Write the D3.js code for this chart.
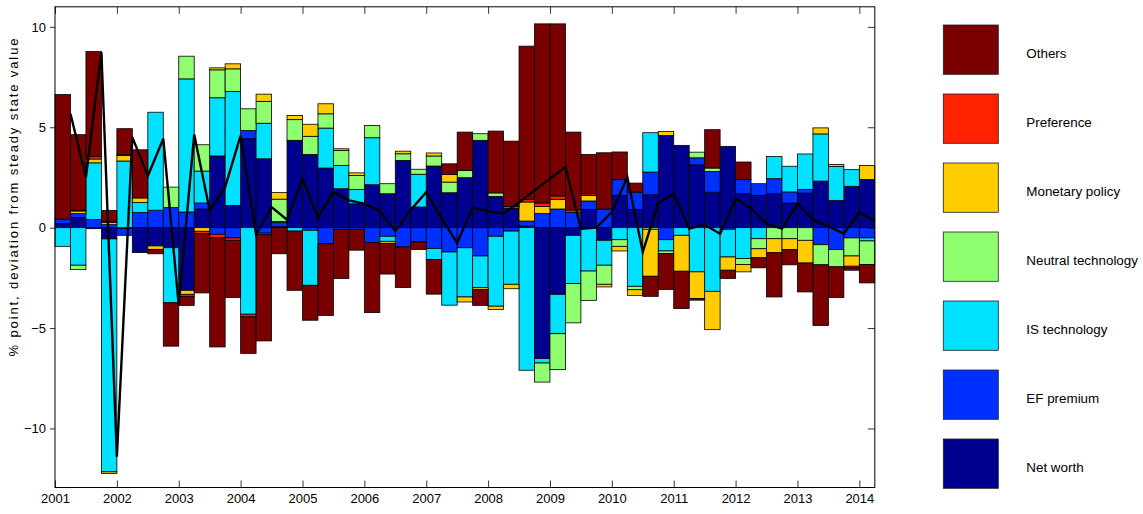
<!DOCTYPE html>
<html>
<head>
<meta charset="utf-8">
<script src="https://cdn.jsdelivr.net/npm/d3@7"></script>
<style>
  body { margin: 0; background: #fff; }
  text { font-family: "Liberation Sans", Arial, Helvetica, sans-serif; fill: #000; }
</style>
</head>
<body>
<svg id="chart" width="1143" height="514"></svg>
<script>
// Quarterly decomposition, 2001Q1 .. 2014Q1 (53 quarters)
const quarterStarts = [];
for (let yr = 2001; yr <= 2014; yr++) for (let q = 0; q < 4; q++) {
  if (yr === 2014 && q > 0) break;
  quarterStarts.push(yr + q / 4);
}

const netWorth = [0.2, 0.5, -0.05, -0.56, -0.05, -1.24, -0.91, -1.0, -3.12, 0.93,
  3.57, 1.11, 4.43, 3.43, 0.05, 4.35, 3.65, 2.97, 1.94, 1.19,
  2.14, 1.69, 3.35, 1.03, 3.07, 1.74, 2.49, 4.35, 1.56, 0.95,
  0.08, -6.52, -3.32, -0.38, 0.9, -0.63, 1.61, 0.91, 1.64, 4.59,
  4.1, 3.13, 1.77, 4.05, 1.69, 1.61, 1.69, 1.23, 1.72, 2.32,
  1.36, 2.06, 2.4];
const efPremium = [0.23, 0.2, 0.4, 0.15, -0.33, 0.75, 0.87, 1.0, 0.78, 0.3,
  -0.33, -0.51, 0.41, -0.27, 0.2, 0, -0.13, -0.8, -0.08, -0.08,
  -0.75, -0.43, -0.96, -0.71, -1.04, -1.21, -1.0, -1.41, -0.43, -0.17,
  0.25, 0.7, 0.93, 0.75, 0.43, 0.93, 0.78, 0.86, 1.13, -0.6,
  0, 0.35, 1.03, -0.08, 0.7, 0.58, 0.75, 0.55, 0.18, -0.85,
  -1.09, -0.51, -0.51];
const isTechnology = [-0.93, -1.87, 2.83, -11.6, 3.32, 0.5, 4.88, -2.74, 6.63, 1.59,
  2.9, 5.67, -4.31, 1.77, 0.05, -0.17, -2.74, 1.99, 1.16, 0.71,
  2.34, -0.25, 0, 1.63, -0.55, -2.65, -2.45, -1.58, -3.48, -2.65,
  -7.1, -0.22, -1.96, -2.4, -2.16, -1.24, -0.6, -2.92, 1.96, -0.56,
  -0.38, -2.2, -3.17, -1.38, -1.54, -0.55, 1.11, 1.28, 1.77, 2.35,
  1.69, 0.83, -0.15];
const neutralTechnology = [0, -0.22, 0, 0.1, 0, 0, 0, 1.02, 1.13, 1.31,
  1.39, 1.13, 1.08, 1.09, 1.12, 1.03, 0.9, 0.71, 0.75, 0.7,
  0.61, 0.5, 0.33, 0.25, 0.5, 0.53, 0.36, 0.33, 0.17, 0,
  0, -0.95, -1.79, -1.96, -1.46, -0.95, -0.33, -0.17, -0.08, -0.13,
  0, 0.28, 0.17, 0, -0.3, -0.5, -0.55, -0.55, -0.63, -1.0,
  -0.86, -0.9, -1.18];
const monetaryPolicy = [0, 0.13, 0.19, -0.08, 0.28, 0.23, -0.17, 0, -0.2, -0.18,
  0.1, 0.25, 0, 0.36, 0.33, 0.21, 0.6, 0.5, 0.08, 0.13,
  0, -0.1, 0.13, 0, 0.15, 0.38, -0.25, -0.1, -0.17, -0.22,
  0.95, 0.36, 0.48, 0, 0.28, -0.13, -0.23, -0.28, -2.34, 0.2,
  -1.79, -1.33, -1.91, -0.66, -0.36, -0.45, -0.7, -0.55, -1.13, 0.3,
  0.1, -0.51, 0.7];
const preference = [0, 0.05, 0.13, 0.07, 0.05, 0, 0, 0, -0.1, -0.12,
  -0.17, -0.12, -0.13, -0.08, 0, 0, 0, 0, 0, 0,
  0, 0, 0, 0, 0, 0, 0, 0, 0, 0.1,
  0.12, 0.17, 0.17, 0.13, 0.08, 0, 0, 0, 0, 0,
  0, 0, 0, 0, 0, 0, 0, 0, 0, 0,
  0, -0.08, 0];
const others = [6.2, 3.75, 5.22, 0.54, 1.28, 2.4, -0.22, -2.16, -0.45, -2.95,
  -5.44, -2.85, -1.82, -5.29, -1.3, -2.95, -1.74, -3.57, -2.45, -1.04,
  -3.48, -1.53, -2.02, -0.38, -1.72, 0.53, 1.91, -0.78, 3.08, 3.26,
  7.64, 8.92, 8.57, 3.88, 1.96, 2.8, 1.38, 0.45, -1.0, -1.79,
  -1.86, -0.08, 1.91, -0.41, 0.88, -0.5, -2.2, -0.75, -1.44, -3.02,
  -1.53, -0.12, -0.91];
// Total deviation (black line)
const totalDeviation = [5.67, 2.52, 8.74, -11.41, 4.51, 2.57, 4.43, -3.86, 4.64, 0.86,
  2.02, 4.59, -0.33, 1.03, 0.4, 2.44, 0.5, 1.77, 1.36, 1.2,
  0.83, -0.17, 0.88, 1.77, 0.45, -0.76, 1.0, 0.81, 0.7, 1.25,
  1.86, 2.44, 3.02, -0.05, 0.0, 0.78, 2.52, -1.21, 1.23, 1.69,
  -0.05, 0.15, -0.3, 1.44, 0.95, 0.2, -0.05, 1.19, 0.4, 0.07,
  -0.3, 0.75, 0.33];

const seriesNames = ["Net worth", "EF premium", "IS technology", "Neutral technology",
  "Monetary policy", "Preference", "Others"];
const seriesValues = [netWorth, efPremium, isTechnology, neutralTechnology,
  monetaryPolicy, preference, others];
const seriesColors = ["#00008f", "#0030ff", "#00e0ff", "#8fff70", "#ffcc00", "#ff2200", "#7a0000"];

const yearTicks = [2001, 2002, 2003, 2004, 2005, 2006, 2007, 2008, 2009, 2010, 2011, 2012, 2013, 2014];
const valueTicks = [-10, -5, 0, 5, 10];

(function draw() {
  const svg = d3.select("#chart");
  const plotLeft = 55, plotRight = 874.8, plotTop = 6.8, plotBottom = 487.5;

  const x = d3.scaleLinear().domain([2001, 2014.25]).range([plotLeft, plotRight]);
  const y = d3.scaleLinear().domain([-12.94, 11]).range([plotBottom, plotTop]);

  const rows = quarterStarts.map((t, i) => {
    const r = { t };
    seriesNames.forEach((n, k) => { r[n] = seriesValues[k][i]; });
    return r;
  });

  const stacked = d3.stack()
    .keys(seriesNames)
    .offset(d3.stackOffsetDiverging)(rows);

  const plot = svg.append("g");

  plot.selectAll("g.series")
    .data(stacked)
    .join("g")
    .attr("class", "series")
    .attr("fill", (d, k) => seriesColors[k])
    .selectAll("rect")
    .data(d => d.filter(s => Math.abs(s[1] - s[0]) > 1e-9))
    .join("rect")
    .attr("x", s => x(s.data.t))
    .attr("width", s => x(s.data.t + 0.25) - x(s.data.t))
    .attr("y", s => y(Math.max(s[0], s[1])))
    .attr("height", s => Math.abs(y(s[0]) - y(s[1])))
    .attr("stroke", "#000")
    .attr("stroke-width", 0.8);

  // total deviation line, one point at the end of each quarter
  const line = d3.line()
    .x((v, i) => x(quarterStarts[i] + 0.25))
    .y(v => y(v));
  plot.append("path")
    .datum(totalDeviation)
    .attr("d", line)
    .attr("fill", "none")
    .attr("stroke", "#000")
    .attr("stroke-width", 2.4);

  // axes
  const fmtYear = d3.format("d");
  const fmtVal = v => (v < 0 ? "\u2212" + Math.abs(v) : String(v));

  const gBottom = svg.append("g").attr("transform", `translate(0,${plotBottom})`)
    .call(d3.axisBottom(x).tickValues(yearTicks).tickFormat(fmtYear)
      .tickSizeInner(-7).tickSizeOuter(0).tickPadding(6));
  const gTop = svg.append("g").attr("transform", `translate(0,${plotTop})`)
    .call(d3.axisTop(x).tickValues(yearTicks).tickFormat("")
      .tickSizeInner(-7).tickSizeOuter(0));
  const gLeft = svg.append("g").attr("transform", `translate(${plotLeft},0)`)
    .call(d3.axisLeft(y).tickValues(valueTicks).tickFormat(fmtVal)
      .tickSizeInner(5).tickSizeOuter(0).tickPadding(4));
  const gRight = svg.append("g").attr("transform", `translate(${plotRight},0)`)
    .call(d3.axisRight(y).tickValues(valueTicks).tickFormat("")
      .tickSizeInner(-7).tickSizeOuter(0));

  [gBottom, gTop, gLeft, gRight].forEach(g => {
    g.select(".domain").remove();
    g.selectAll(".tick line").attr("stroke", "#000").attr("stroke-width", 0.8);
    g.selectAll("text").attr("font-size", 13).attr("font-family", null);
  });

  // frame
  svg.append("rect")
    .attr("x", plotLeft).attr("y", plotTop)
    .attr("width", plotRight - plotLeft).attr("height", plotBottom - plotTop)
    .attr("fill", "none").attr("stroke", "#000").attr("stroke-width", 1);

  // y label
  svg.append("text")
    .attr("transform", `translate(18,${(38 + 357) / 2}) rotate(-90)`)
    .attr("text-anchor", "middle")
    .attr("font-size", 13)
    .attr("textLength", 318)
    .attr("lengthAdjust", "spacing")
    .text("% point, deviation from steady state value");

  // legend
  const legendOrder = d3.range(seriesNames.length).reverse();
  const lg = svg.append("g").selectAll("g")
    .data(legendOrder)
    .join("g")
    .attr("transform", (k, j) => `translate(943.3,${25 + j * 69})`);
  lg.append("rect")
    .attr("width", 55).attr("height", 49.3)
    .attr("fill", k => seriesColors[k])
    .attr("stroke", "#222").attr("stroke-width", 0.8);
  lg.append("text")
    .attr("x", 83).attr("y", 28.2)
    .attr("dy", "0.35em")
    .attr("font-size", 13.4)
    .text(k => seriesNames[k]);
})();
</script>
</body>
</html>
